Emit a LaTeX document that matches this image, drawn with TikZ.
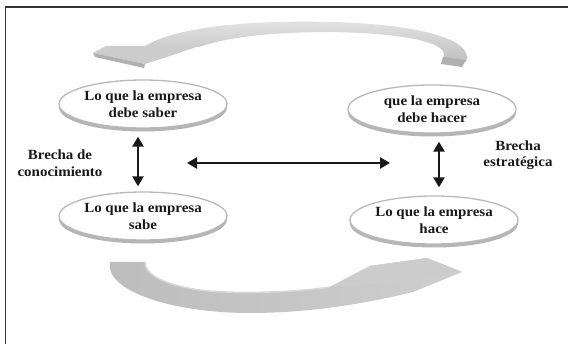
\documentclass[tikz,border=0pt]{standalone}
\usepackage{fontspec}
\setmainfont{Liberation Serif}[FakeStretch=1.07]
\usetikzlibrary{shapes.geometric,arrows.meta,shadows}
\tikzset{
  ellbox/.style={ellipse, draw=gray!55, line width=1.3pt, fill=white,
    minimum width=168pt, minimum height=48pt, inner sep=0pt,
    general shadow={fill=gray!58, shadow yshift=-3.5pt},
    font=\fontsize{14}{16.5}\selectfont\bfseries, align=center, text=black!90},
  lbl/.style={font=\fontsize{14}{16.5}\selectfont\bfseries, align=center, text=black!90},
  dbl/.style={line width=2.6pt, black!90,
    {Triangle[length=10pt,width=11pt]}-{Triangle[length=10pt,width=11pt]}},
  band/.style={top color=gray!22, bottom color=gray!50, draw=none},
  headface/.style={fill=gray!40, draw=none},
  darkface/.style={fill=gray!62, draw=none}
}
\begin{document}
\begin{tikzpicture}[x=1pt,y=-1pt]
\useasboundingbox (0,0) rectangle (568,344);
\fill[white] (0,0) rectangle (568,344);
% frame
\draw[line width=1.8pt, black!80] (5.5,344) -- (5.5,7) -- (568,7);

% top curved arrow
\path[band] (466,62) .. controls (475,40) and (420,24) .. (330,22)
  .. controls (240,20) and (175,28) .. (145,46)
  -- (199,47) .. controls (230,36) and (280,32) .. (330,32)
  .. controls (400,33) and (452,42) .. (443,58) -- cycle;
\path[darkface] (443,57) -- (466,60) -- (462,67) -- (441,64) -- cycle;
\path[headface] (106,46) -- (199,46) -- (170,56) -- (145,64) -- (93,53) -- cycle;
\path[darkface] (93,53) -- (145,64) -- (144,68) -- (95,57) -- cycle;

% bottom curved arrow
\path[left color=gray!52, right color=gray!38] (110,262)
  .. controls (104,290) and (170,313) .. (250,313)
  .. controls (320,313) and (380,300) .. (413,292)
  -- (462,272) -- (427,258) -- (370,266) -- (330,287)
  .. controls (290,293) and (230,294) .. (200,290)
  .. controls (165,285) and (145,275) .. (145,262) -- cycle;
\draw[white!70!gray, line width=1.5pt] (145,262) .. controls (145,275) and (165,285) .. (200,290)
  .. controls (230,294) and (290,293) .. (330,287);
\path[headface] (330,287) -- (370,266) -- (427,258) -- (462,272) -- (405,282) -- cycle;

% ellipses
\node[ellbox] (tl) at (143,104) {Lo que la empresa\\debe saber};
\node[ellbox] (tr) at (432,109) {que la empresa\\debe hacer};
\node[ellbox] (bl) at (143,216) {Lo que la empresa\\sabe};
\node[ellbox] (br) at (434,220) {Lo que la empresa\\hace};

% labels
\node[lbl] (lk) at (60,163) {Brecha de\\conocimiento};
\node[lbl] (le) at (518,155) {Brecha\\estratégica};

% arrows
\draw[dbl, shorten <=8pt, shorten >=5pt] ([xshift=-5pt]tl.south) -- ([xshift=-5pt]bl.north);
\draw[dbl, shorten <=8pt, shorten >=8pt] ([xshift=7pt]tr.south) -- ([xshift=5pt]br.north);
\coordinate (hl) at (187,163);
\coordinate (hr) at (390,163);
\draw[dbl] (hl) -- (hr);
\end{tikzpicture}
\end{document}
